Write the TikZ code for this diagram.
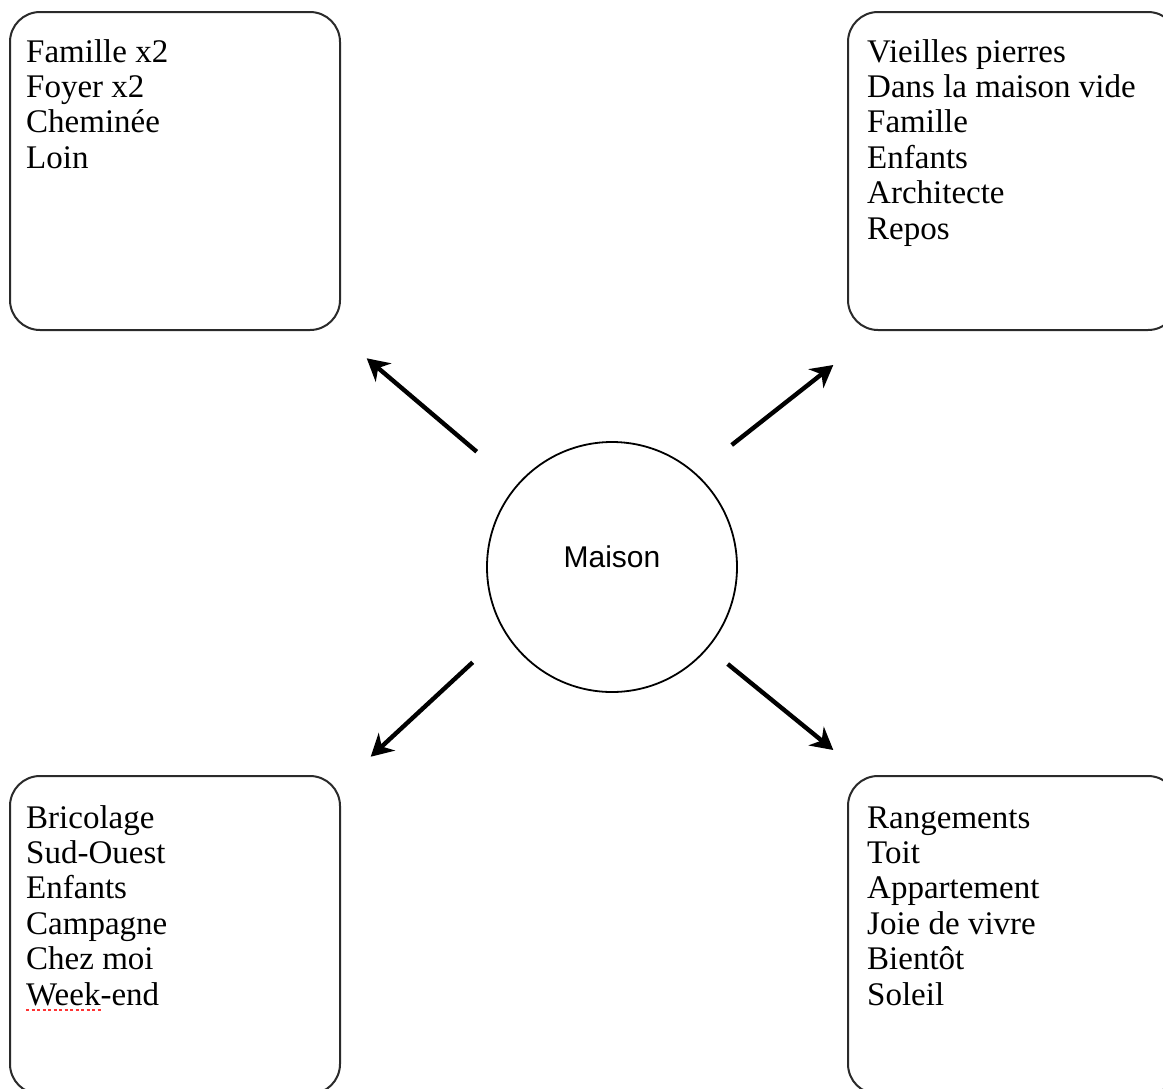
\documentclass[tikz,border=0pt]{standalone}
\usepackage{fontspec}
\setmainfont{Liberation Serif}
\newfontfamily\helv{Liberation Sans}
\usetikzlibrary{arrows.meta}
\definecolor{boxline}{HTML}{2A2A2A}
\tikzset{
  listbox/.style={draw=boxline, line width=2pt, rounded corners=30pt,
    minimum width=330pt, minimum height=318pt, inner sep=0pt},
  listtext/.style={anchor=base west, inner sep=0pt},
  hub/.style={circle, draw=black, line width=1.8pt, minimum size=250pt, inner sep=0pt},
  arr/.style={line width=4.4pt, -{Stealth[length=22pt,width=24pt,inset=7pt]}},
  spell/.style={red!80!white, line width=2.6pt, dash pattern=on 3pt off 2.5pt}
}
\newcommand{\boxlines}[1]{\parbox[t]{320pt}{\fontsize{33}{35.4}\selectfont\raggedright #1}}
\begin{document}
\begin{tikzpicture}[x=1pt,y=-1pt]
\useasboundingbox (0,0) rectangle (1163,1088);
% boxes
\node[listbox] (tl) at (175,171) {};
\node[listbox] (tr) at (1013,171) {};
\node[listbox] (bl) at (175,935) {};
\node[listbox] (br) at (1013,935) {};
% texts
\node[listtext] (tltext) at (26,62) {\boxlines{Famille x2\\Foyer x2\\Cheminée\\Loin}};
\node[listtext] (trtext) at (867,62) {\boxlines{Vieilles pierres\\Dans la maison vide\\Famille\\Enfants\\Architecte\\Repos}};
\node[listtext] (bltext) at (26,828) {\boxlines{Bricolage\\Sud-Ouest\\Enfants\\Campagne\\Chez moi\\Week-end}};
\node[listtext] (brtext) at (867,828) {\boxlines{Rangements\\Toit\\Appartement\\Joie de vivre\\Bientôt\\Soleil}};
% spell-check underline
\coordinate (sp1) at (26,1010);
\coordinate (sp2) at (102,1010);
\draw[spell] (sp1) -- (sp2);
% hub
\node[hub] (maison) at (612,567) {};
\node[anchor=base, inner sep=0pt, font=\helv\fontsize{30}{36}\selectfont] (maisonlabel) at (maison.center) {Maison};
% arrows
\coordinate (s1) at (476.7,451.7); \coordinate (e1) at (366.7,358.3);
\coordinate (s2) at (731.7,445);   \coordinate (e2) at (833.3,365);
\coordinate (s3) at (472.7,662.3); \coordinate (e3) at (370.7,756.7);
\coordinate (s4) at (727.7,664);   \coordinate (e4) at (833.3,750);
\draw[arr] (s1) -- (e1);
\draw[arr] (s2) -- (e2);
\draw[arr] (s3) -- (e3);
\draw[arr] (s4) -- (e4);
\end{tikzpicture}
\end{document}
